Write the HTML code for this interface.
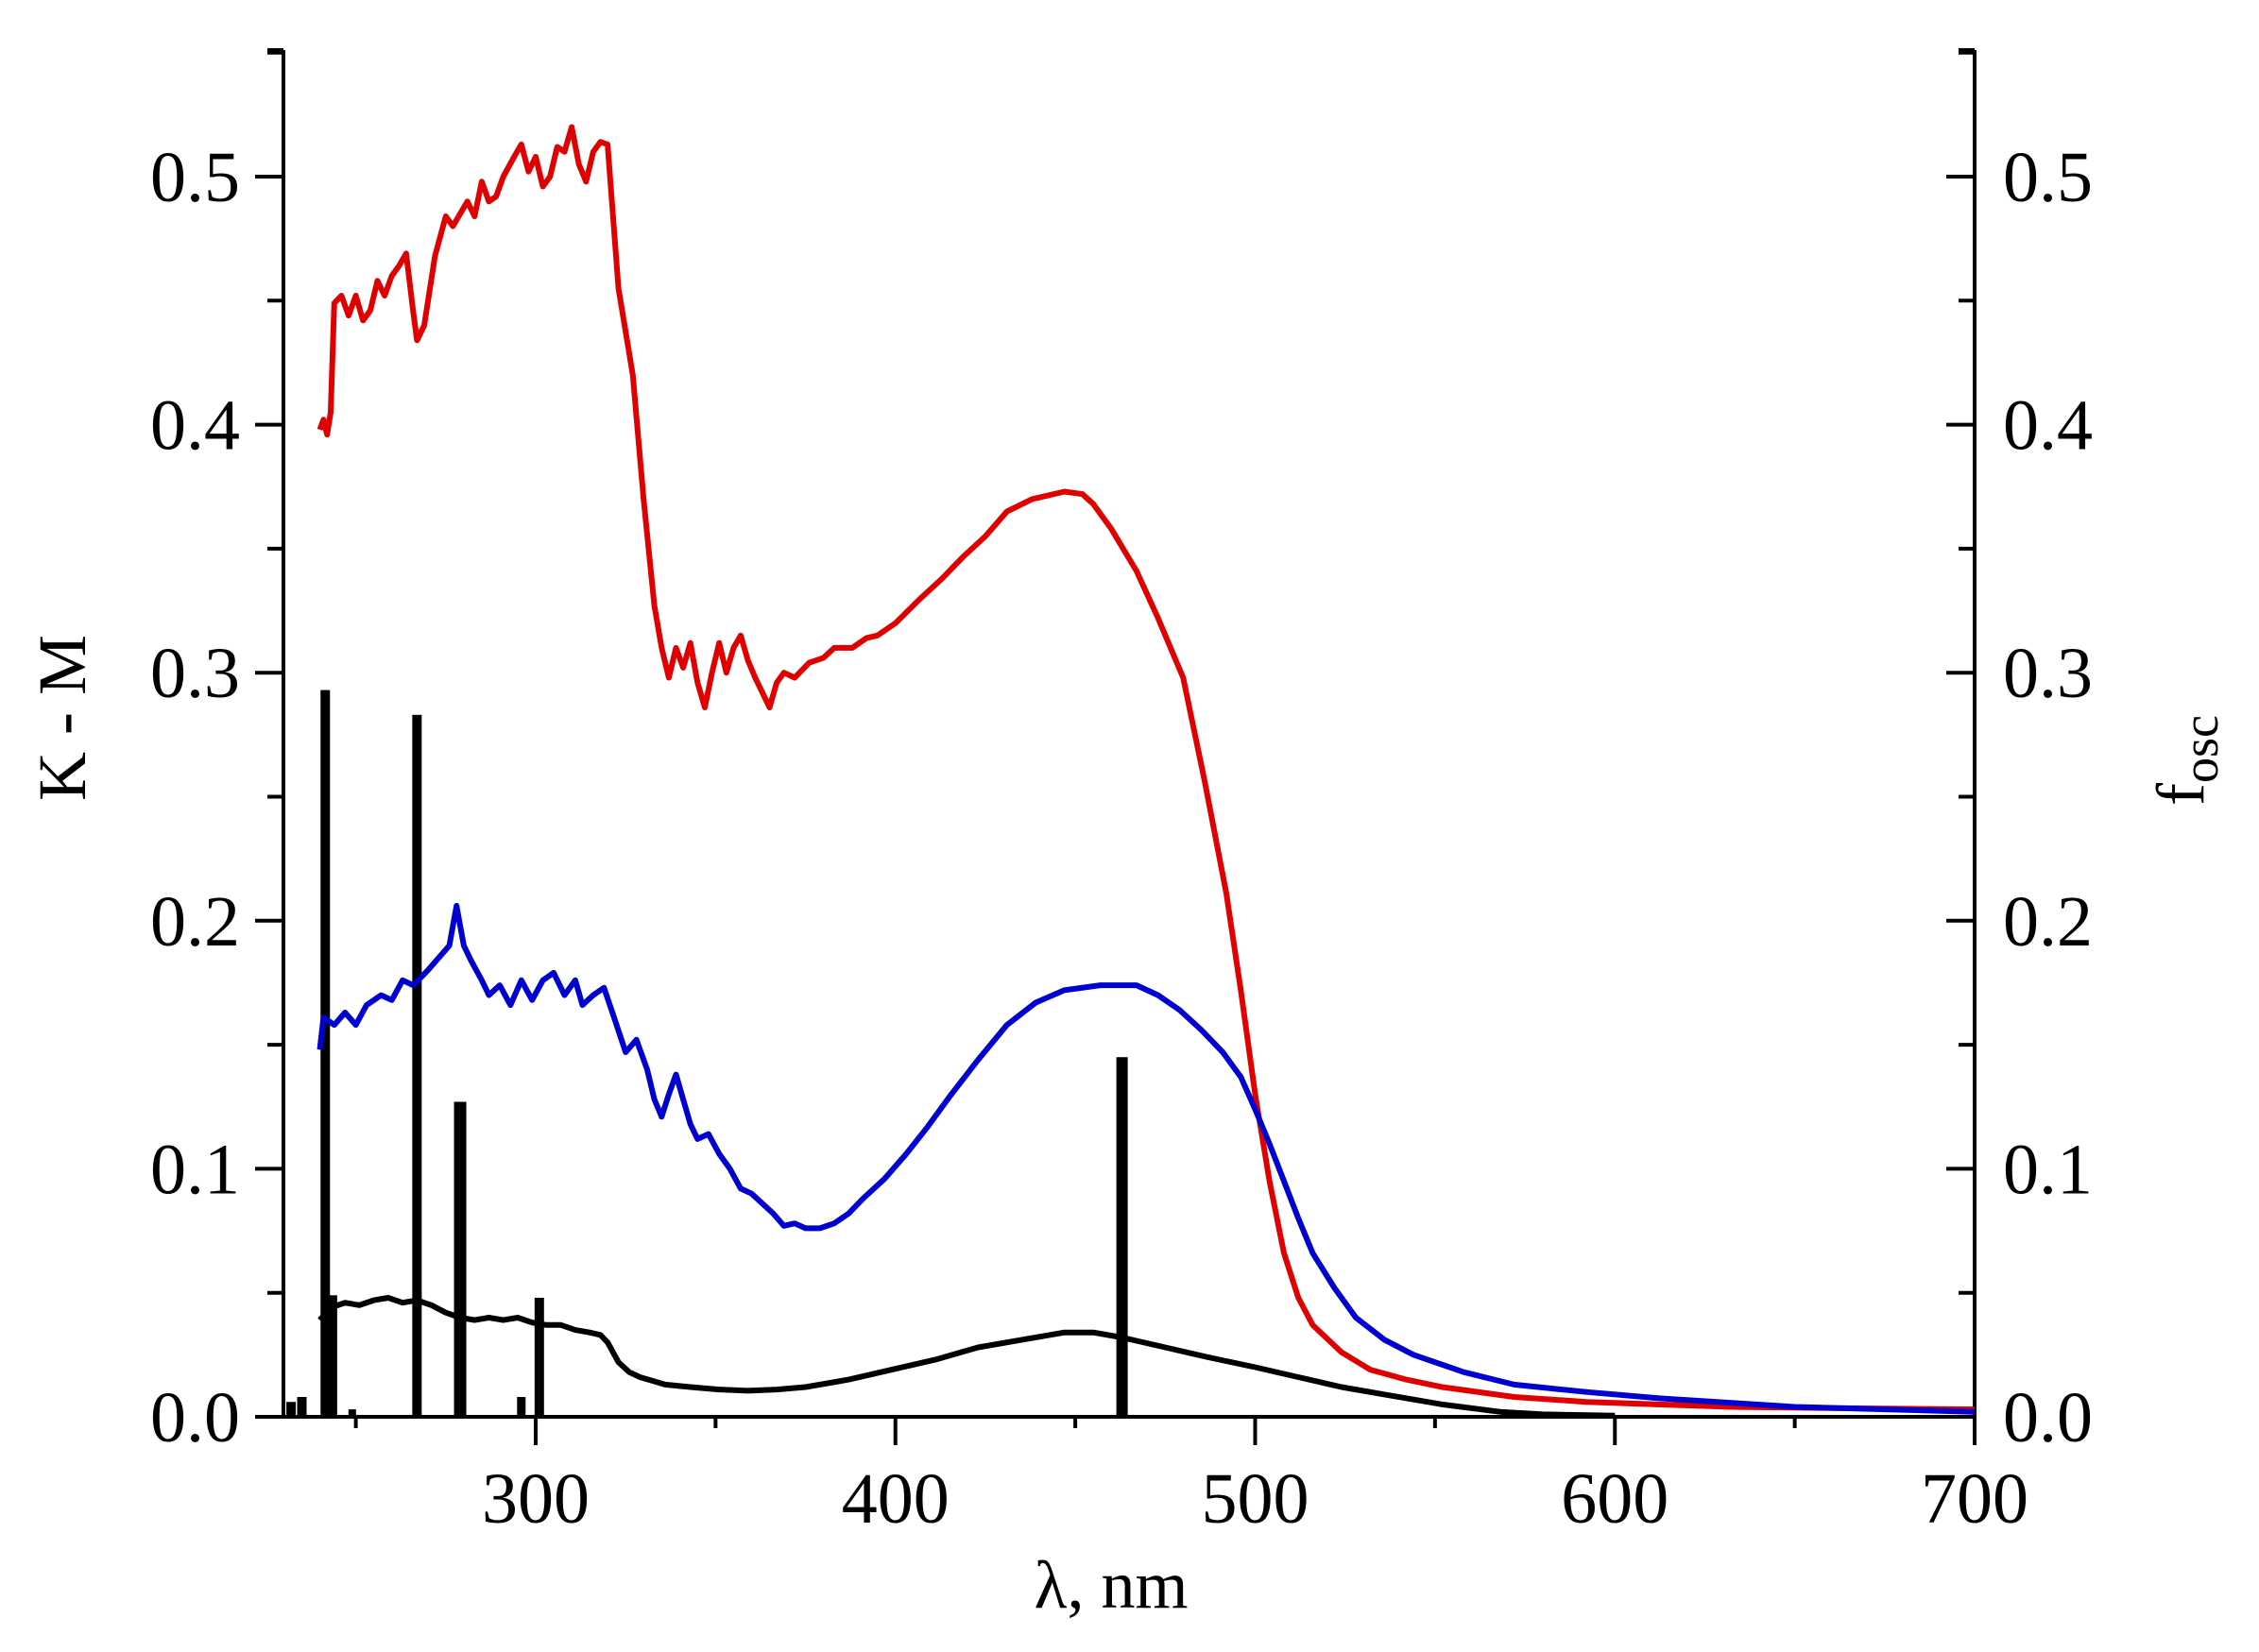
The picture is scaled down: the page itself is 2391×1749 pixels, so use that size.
<!DOCTYPE html>
<html><head><meta charset="utf-8"><style>
html,body{margin:0;padding:0;background:#fff}
svg{display:block}
text{font-family:"Liberation Serif",serif;fill:#000}
</style></head><body>
<svg id="s" width="2391" height="1749" xmlns="http://www.w3.org/2000/svg">
<g stroke="#000" stroke-width="4" fill="none" id="ax">
<line x1="300" y1="53" x2="300" y2="1500"/>
<line x1="2090" y1="53" x2="2090" y2="1500"/>
<line x1="278" y1="1500" x2="2092" y2="1500"/>
</g>
<g id="dyn"></g>
<text x="1176" y="1702" font-size="72" text-anchor="middle">λ, nm</text>
<text transform="translate(90,760) rotate(-90)" font-size="72" text-anchor="middle">K - M</text>
<text transform="translate(2332,805) rotate(-90)" font-size="72" text-anchor="middle">f<tspan font-size="54" dy="15">osc</tspan></text>
</svg>
<script>
const X=nm=>567+(nm-300)*3.8075, Y=v=>1500-v*2626;
const NS="http://www.w3.org/2000/svg", g=document.getElementById('dyn');
function el(t,a,txt){const e=document.createElementNS(NS,t);for(const k in a)e.setAttribute(k,a[k]);if(txt!=null)e.textContent=txt;g.appendChild(e);return e;}
for(let v=0;v<=0.55;v+=0.05){const y=Y(v),maj=Math.round(v*20)%2==0;
 el('line',{x1:maj?270:283,y1:y,x2:300,y2:y,stroke:'#000','stroke-width':4});
 el('line',{x1:maj?2060:2073,y1:y,x2:2090,y2:y,stroke:'#000','stroke-width':4});
 if(maj){const s=v.toFixed(1);
  el('text',{x:254,y:y+26,'font-size':76,'text-anchor':'end'},s);
  el('text',{x:2120,y:y+26,'font-size':76},s);}}
el('line',{x1:283,y1:53,x2:300,y2:53,stroke:'#000','stroke-width':4});
el('line',{x1:2073,y1:53,x2:2090,y2:53,stroke:'#000','stroke-width':4});
for(let nm=250;nm<=700;nm+=50){const x=X(nm),maj=nm%100==0;
 el('line',{x1:x,y1:1500,x2:x,y2:maj?1530:1512,stroke:'#000','stroke-width':4});
 if(maj)el('text',{x:x,y:1612,'font-size':76,'text-anchor':'middle'},String(nm));}
[[232,0.006,10],[235,0.008,10],[241.5,0.293,10],[243.5,0.049,10],[249,0.003,8],[267,0.283,10],[279,0.127,13],[296,0.008,9],[301,0.048,10],[463,0.145,12]].forEach(b=>{
 el('rect',{x:X(b[0])-b[2]/2,y:Y(b[1]),width:b[2],height:1500-Y(b[1]),fill:'#000'});});
function line(pts,c){let d=pts.map((p,i)=>(i?'L':'M')+X(p[0]).toFixed(1)+','+Y(p[1]).toFixed(1)).join(' ');
 el('path',{d:d,fill:'none',stroke:c,'stroke-width':6,'stroke-linejoin':'round'});}
line([[240,0.398],[241,0.402],[242,0.396],[243,0.405],[244,0.449],[246,0.452],[248,0.444],[250,0.452],[252,0.442],[254,0.446],[256,0.458],[258,0.452],[260,0.46],[262,0.464],[264,0.469],[266,0.445],[267,0.434],[269,0.44],[272,0.468],[275,0.484],[277,0.48],[279,0.485],[281,0.49],[283,0.484],[285,0.498],[287,0.49],[289,0.492],[291,0.5],[294,0.508],[296,0.513],[298,0.502],[300,0.508],[302,0.496],[304,0.5],[306,0.512],[308,0.51],[310,0.52],[312,0.505],[314,0.498],[316,0.51],[318,0.514],[320,0.513],[323,0.455],[327,0.42],[330,0.37],[333,0.327],[335,0.31],[337,0.298],[339,0.31],[341,0.302],[343,0.312],[345,0.296],[347,0.286],[349,0.3],[351,0.312],[353,0.3],[355,0.31],[357,0.315],[359,0.305],[361,0.298],[363,0.292],[365,0.286],[367,0.296],[369,0.3],[372,0.298],[376,0.304],[380,0.306],[383,0.31],[388,0.31],[392,0.314],[395,0.315],[400,0.32],[407,0.33],[413,0.338],[419,0.347],[425,0.355],[431,0.365],[438,0.37],[447,0.373],[452,0.372],[455,0.368],[460,0.358],[467,0.341],[473,0.322],[480,0.298],[486,0.256],[492,0.211],[496,0.172],[500,0.13],[504,0.095],[508,0.066],[512,0.048],[516,0.037],[524,0.026],[532,0.019],[542,0.015],[552,0.012],[572,0.008],[592,0.006],[632,0.004],[660,0.0035],[700,0.003]],'#e00000');
line([[240,0.148],[241,0.161],[244,0.158],[247,0.163],[250,0.158],[253,0.166],[257,0.17],[260,0.168],[263,0.176],[266,0.174],[270,0.18],[273,0.185],[276,0.19],[278,0.206],[280,0.19],[282,0.184],[285,0.176],[287,0.17],[290,0.174],[293,0.166],[296,0.176],[299,0.168],[302,0.176],[305,0.179],[308,0.17],[311,0.176],[313,0.166],[316,0.17],[319,0.173],[322,0.16],[325,0.147],[328,0.152],[331,0.14],[333,0.128],[335,0.121],[337,0.13],[339,0.138],[341,0.128],[343,0.118],[345,0.112],[348,0.114],[351,0.106],[354,0.1],[357,0.092],[360,0.09],[363,0.086],[366,0.082],[369,0.077],[372,0.078],[375,0.076],[379,0.076],[383,0.078],[387,0.082],[391,0.088],[397,0.096],[403,0.106],[409,0.117],[415,0.129],[423,0.144],[431,0.158],[439,0.167],[447,0.172],[457,0.174],[467,0.174],[473,0.17],[479,0.164],[485,0.156],[491,0.147],[496,0.137],[500,0.124],[504,0.11],[508,0.095],[512,0.08],[516,0.066],[522,0.052],[528,0.04],[536,0.031],[544,0.025],[558,0.018],[572,0.013],[592,0.01],[612,0.0075],[650,0.004],[700,0.002]],'#0000d0');
line([[240,0.039],[243,0.044],[247,0.046],[251,0.045],[255,0.047],[259,0.048],[263,0.046],[267,0.047],[271,0.045],[275,0.042],[279,0.04],[283,0.039],[287,0.04],[291,0.039],[295,0.04],[299,0.038],[303,0.037],[307,0.037],[311,0.035],[315,0.034],[318,0.033],[320,0.03],[323,0.022],[326,0.018],[329,0.016],[336,0.013],[343,0.012],[351,0.011],[359,0.0105],[367,0.011],[375,0.012],[387,0.015],[399,0.019],[411,0.023],[423,0.028],[435,0.031],[447,0.034],[455,0.034],[463,0.032],[475,0.028],[487,0.024],[500,0.02],[512,0.016],[524,0.012],[536,0.009],[552,0.005],[568,0.002],[580,0.001],[600,0.0005]],'#000');
</script>
</body></html>
